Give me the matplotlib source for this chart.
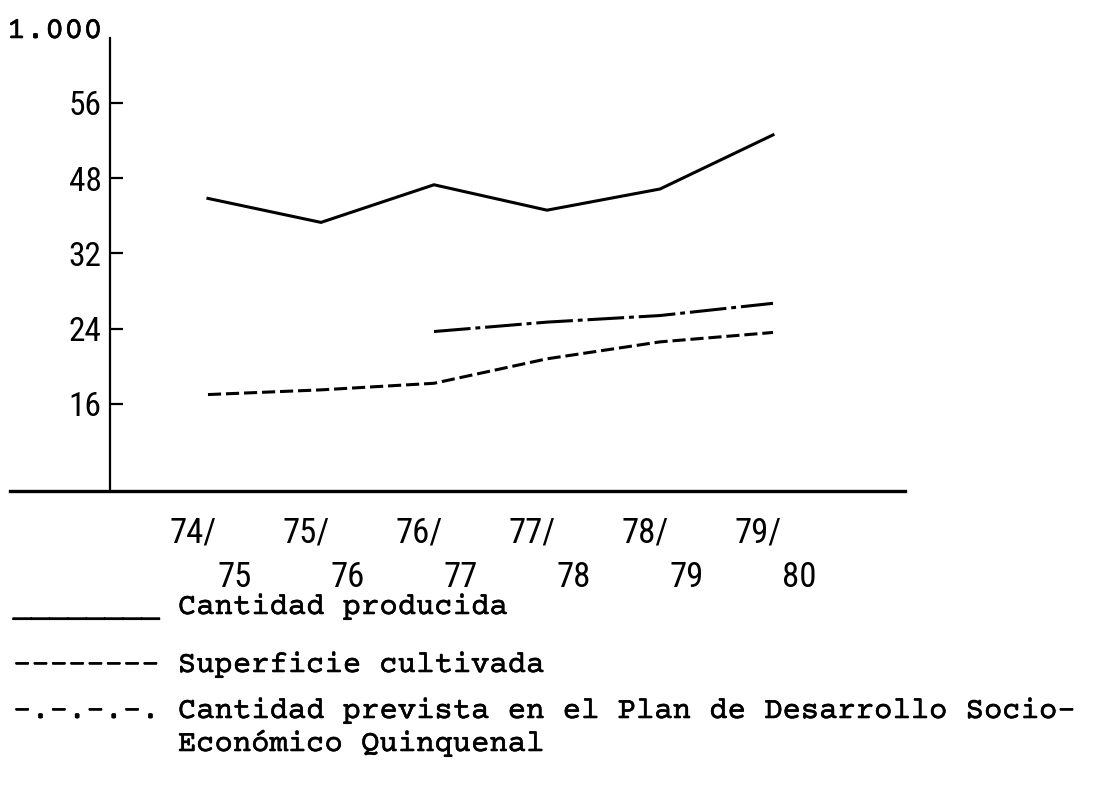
import numpy as np
import matplotlib
matplotlib.use("Agg")
import matplotlib.pyplot as plt
from matplotlib import font_manager, patheffects


# Datos
campanas_ini = ["74/", "75/", "76/", "77/", "78/", "79/"]
campanas_fin = ["75", "76", "77", "78", "79", "80"]

producida = [43.7, 38.6, 46.6, 41.2, 45.7, 52.6]
superficie = [17.0, 17.5, 18.2, 20.8, 22.6, 23.6]
prevista = [23.7, 24.7, 25.4, 26.7]   # desde 76/77

ytick_vals = [16, 24, 32, 48, 56]

# el eje vertical del original tiene marcas equidistantes con valores irregulares
niveles = [0] + ytick_vals + [80]
posiciones = [-2, 0, 1, 2, 3, 4, 7]

def a_pos(v):
    return np.interp(v, niveles, posiciones)

def a_val(p):
    return np.interp(p, posiciones, niveles)


instaladas = {f.name for f in font_manager.fontManager.ttflist}

def elegir(candidatas):
    return [c for c in candidatas if c in instaladas] or ["DejaVu Sans"]

mono = elegir(["Courier Prime", "Cutive Mono", "Liberation Mono"])
narrow = elegir(["Roboto Condensed", "Archivo Narrow", "PT Sans Narrow", "DejaVu Sans"])
tinta = [patheffects.withStroke(linewidth=0.4, foreground="black")]

fig = plt.figure(figsize=(10.94, 7.90), dpi=100)
ax = fig.add_axes([110/1094, 299/790, 795/1094, 453/790])

x = np.arange(len(campanas_ini))
lw = 2.2

ax.plot(x, producida, color="black", lw=lw, solid_joinstyle="miter")
ax.plot(x, superficie, color="black", lw=lw, linestyle=(0, (4.3, 1.6)))
ax.plot(x[2:], prevista, color="black", lw=lw, linestyle=(0, (12, 1.6, 1.6, 1.6)))

ax.set_yscale("function", functions=(a_pos, a_val))
ax.set_ylim(6.75, 62.9)
ax.set_xlim(-0.867, 6.168)

# ejes
for s in ["top", "right", "bottom"]:
    ax.spines[s].set_visible(False)
ax.spines["left"].set_linewidth(1.6)
ax.plot([-0.126, 1], [0, 0], transform=ax.transAxes, color="black",
        lw=2.4, clip_on=False)

ax.set_yticks(ytick_vals)
ax.set_yticklabels([str(v) for v in ytick_vals], family=narrow, fontsize=24)
ax.yaxis.set_minor_locator(matplotlib.ticker.NullLocator())
ax.tick_params(axis="y", direction="in", length=9, width=1.6, pad=6)
ax.set_xticks([])

# etiquetas de campanas en dos renglones
for i in range(len(x)):
    ax.annotate(campanas_ini[i], xy=(x[i], 0), xycoords=("data", "axes fraction"),
                xytext=(-11, -30), textcoords="offset points",
                ha="center", va="center", family=narrow, fontsize=25)
    ax.annotate(campanas_fin[i], xy=(x[i], 0), xycoords=("data", "axes fraction"),
                xytext=(19, -62), textcoords="offset points",
                ha="center", va="center", family=narrow, fontsize=25)

fig.text(103/1094, 1 - 38/790, "1.000", ha="right", va="baseline",
         family=mono, fontsize=23, path_effects=tinta)

# leyenda a maquina
leyenda = [
    ("________ Cantidad producida", 614),
    ("-------- Superficie cultivada", 672),
    ("-.-.-.-. Cantidad prevista en el Plan de Desarrollo Socio-", 718),
    ("         Económico Quinquenal", 751),
]
for texto, ypx in leyenda:
    fig.text(13/1094, 1 - ypx/790, texto, ha="left", va="baseline",
             family=mono, fontsize=22, path_effects=tinta)

plt.savefig("out.png", dpi=100)
